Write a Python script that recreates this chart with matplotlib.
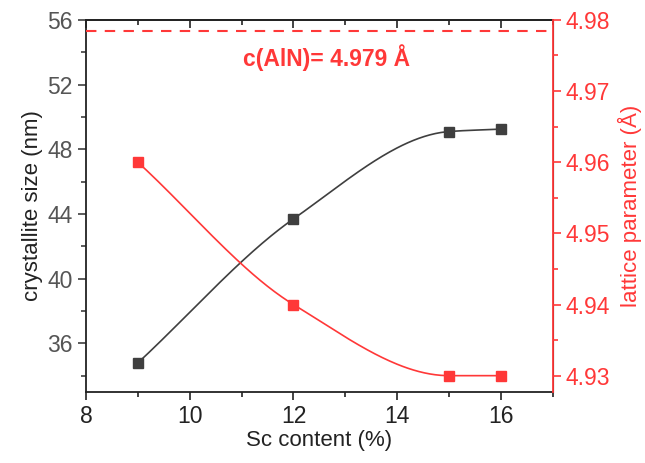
import numpy as np
import matplotlib
matplotlib.use("Agg")
import matplotlib.pyplot as plt
from matplotlib.ticker import MultipleLocator, FormatStrFormatter

plt.rcParams['font.family'] = ['Liberation Sans', 'DejaVu Sans']

sc_content = [9, 12, 15, 16]
crystallite_size = [34.8, 43.7, 49.1, 49.25]
lattice_param = [4.960, 4.940, 4.930, 4.930]
c_aln_line = 4.9784
c_aln_label = 'c(AlN)= 4.979 Å'

BLACK = '#3f3f3f'
RED = '#ff3838'


def pchip(x, y, xs):
    # monotone cubic, just for drawing the smooth connecting line
    x = np.asarray(x, float)
    y = np.asarray(y, float)
    h = np.diff(x)
    d = np.diff(y) / h
    m = np.zeros_like(y)
    for k in range(1, len(x) - 1):
        if d[k - 1] * d[k] > 0:
            w1 = 2 * h[k] + h[k - 1]
            w2 = h[k] + 2 * h[k - 1]
            m[k] = (w1 + w2) / (w1 / d[k - 1] + w2 / d[k])
    m[0] = d[0]
    m[-1] = d[-1] if d[-1] * d[-2] > 0 else 0.0
    i = np.clip(np.searchsorted(x, xs) - 1, 0, len(x) - 2)
    t = (xs - x[i]) / h[i]
    h00 = 2 * t**3 - 3 * t**2 + 1
    h10 = t**3 - 2 * t**2 + t
    h01 = -2 * t**3 + 3 * t**2
    h11 = t**3 - t**2
    return h00 * y[i] + h10 * h[i] * m[i] + h01 * y[i + 1] + h11 * h[i] * m[i + 1]


fig = plt.figure(figsize=(6.45, 4.63), dpi=100)
ax = fig.add_axes([0.1333, 0.1533, 0.7237, 0.8037])
ax2 = ax.twinx()

xs = np.linspace(sc_content[0], sc_content[-1], 200)
ax.plot(xs, pchip(sc_content, crystallite_size, xs), color=BLACK, lw=1.2)
ax.plot(sc_content, crystallite_size, 's', color=BLACK, ms=7.5)
ax2.plot(xs, pchip(sc_content, lattice_param, xs), color=RED, lw=1.2)
ax2.plot(sc_content, lattice_param, 's', color=RED, ms=7.5)
ax2.axhline(c_aln_line, color=RED, ls=(0, (5, 4)), lw=1.5)
ax2.text(12.64, 4.9747, c_aln_label, color=RED, fontsize=16.5,
         fontweight='bold', ha='center', va='center')

ax.set_xlim(8, 17)
ax.set_ylim(33, 56)
ax2.set_ylim(4.9277, 4.98)

ax.xaxis.set_major_locator(MultipleLocator(2))
ax.xaxis.set_minor_locator(MultipleLocator(1))
ax.yaxis.set_major_locator(MultipleLocator(4))
ax.yaxis.set_minor_locator(MultipleLocator(2))
ax2.yaxis.set_major_locator(MultipleLocator(0.01))
ax2.yaxis.set_minor_locator(MultipleLocator(0.005))
ax2.yaxis.set_major_formatter(FormatStrFormatter('%.2f'))

# top axis: inward ticks, no labels
top = ax.secondary_xaxis('top')
top.xaxis.set_major_locator(MultipleLocator(2))
top.xaxis.set_minor_locator(MultipleLocator(1))
top.tick_params(which='both', direction='in', labeltop=False, colors='#222222', width=1.2)
top.tick_params(which='major', length=6)
top.tick_params(which='minor', length=3.5)
top.spines['top'].set_linewidth(1.3)
top.spines['top'].set_color('#222222')

ax.tick_params(axis='x', which='both', direction='out', labelsize=16.5,
               colors='#222222')
ax.tick_params(axis='x', which='major', length=6, width=1.2)
ax.tick_params(axis='x', which='minor', length=3.5, width=1.2)
ax.tick_params(axis='y', which='both', direction='out', labelsize=16.5,
               colors=BLACK, labelcolor='#555555')
ax.tick_params(axis='y', which='major', length=6, width=1.2)
ax.tick_params(axis='y', which='minor', length=3.5, width=1.2)
ax2.tick_params(axis='y', which='both', direction='out', labelsize=16.5, colors=RED)
ax2.tick_params(axis='y', which='major', length=6, width=1.2)
ax2.tick_params(axis='y', which='minor', length=3.5, width=1.2)

for s in ['left', 'bottom', 'top']:
    ax.spines[s].set_linewidth(1.3)
    ax.spines[s].set_color('#222222')
ax2.spines['right'].set_color(RED)
ax2.spines['right'].set_linewidth(1.3)
for s in ['left', 'bottom', 'top']:
    ax2.spines[s].set_visible(False)

ax.set_xlabel('Sc content (%)', fontsize=16, color='#222222', labelpad=1)
ax.set_ylabel('crystallite size (nm)', fontsize=16, color='#222222', labelpad=3)
ax2.set_ylabel('lattice parameter (Å)', fontsize=16, color=RED, labelpad=5)

fig.savefig('out.png', dpi=100)
